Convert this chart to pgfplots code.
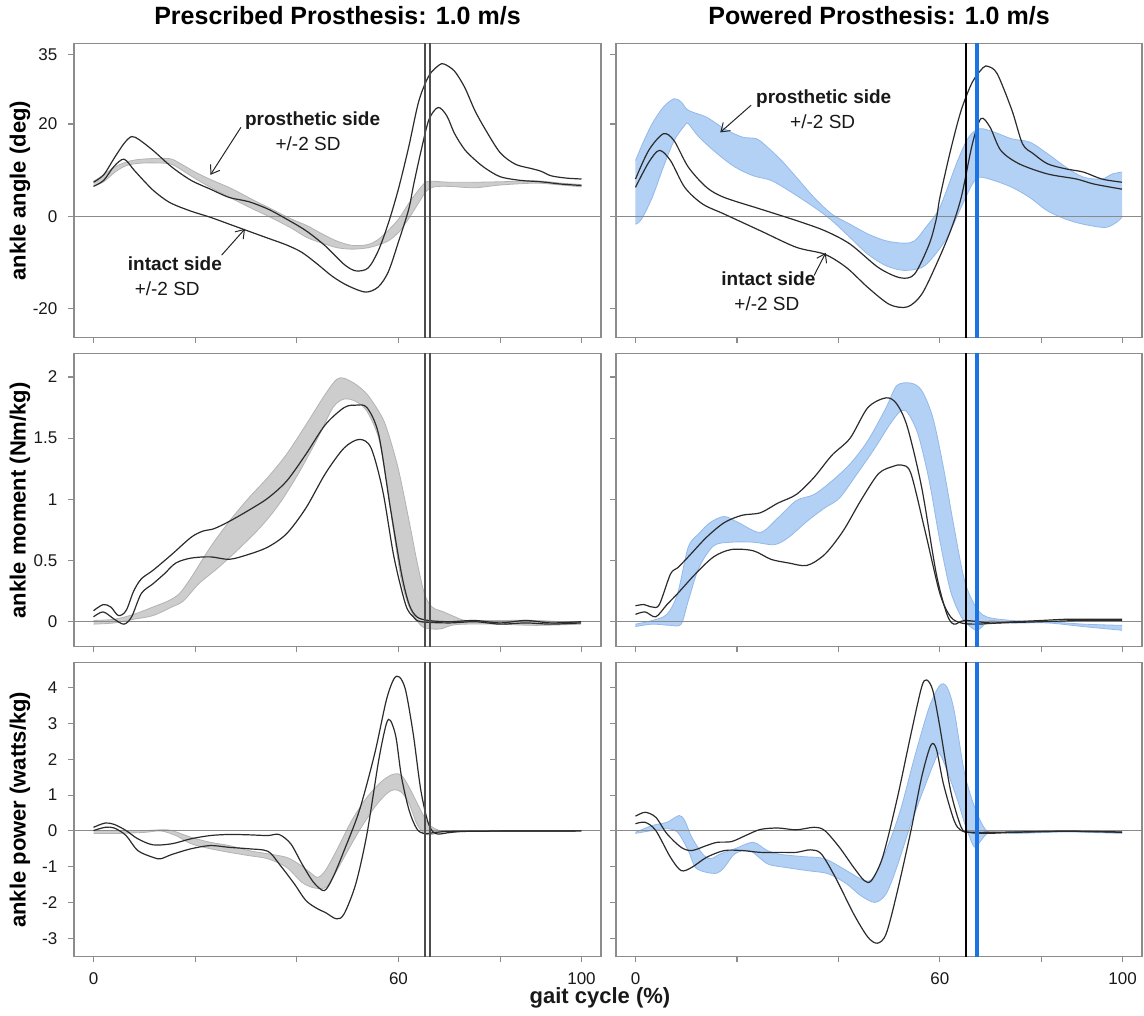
\documentclass[border=0pt]{standalone}
\usepackage{fontspec}
\setmainfont{Liberation Sans}
\usepackage{pgfplots}
\pgfplotsset{compat=1.18}
\usepgfplotslibrary{fillbetween}
\usetikzlibrary{arrows.meta}

\definecolor{boxgray}{HTML}{8C8C8C}
\definecolor{zerogray}{HTML}{8A8A8A}
\definecolor{curve}{HTML}{2B2B2B}
\definecolor{bandgray}{HTML}{CDCDCD}
\definecolor{bandgrayedge}{HTML}{B3B3B3}
\definecolor{bandblue}{HTML}{B3D0F5}
\definecolor{bandblueedge}{HTML}{93B9EA}
\definecolor{lineblue}{HTML}{1C74E4}
\definecolor{vgray}{HTML}{4D4D4D}

\tikzset{
  note/.style={font=\bfseries\fontsize{9.5}{11}\selectfont, text=black!90},
  sd/.style={font=\fontsize{9.5}{11}\selectfont, text=black!90},
  arr/.style={-{Straight Barb[length=4pt,width=5.5pt]}, line width=0.5pt, black!85},
}
\pgfplotsset{
  panel/.style={
    scale only axis, height=147pt,
    xmin=-3.84, xmax=99.84,
    axis line style={draw=boxgray, line width=0.6pt},
    tick style={draw=boxgray, line width=0.6pt},
    tick align=outside, major tick length=2.8pt, tick pos=left,
    xtick={0,20,40,60,80,96}, xticklabels={,,,,,},
    ticklabel style={font=\fontsize{8.5}{10}\selectfont, text=black!90},
    yticklabel style={xshift=-2pt},
    xticklabel style={yshift=-1.8pt},
    ylabel style={at={(axis description cs:-0.1025,0.5)}, anchor=center,
      font=\bfseries\fontsize{11}{13}\selectfont},
    title style={at={(axis description cs:0.5,1)}, anchor=base, yshift=3.5pt,
      font=\bfseries\fontsize{12.5}{14}\selectfont},
  },
  leftcol/.style={panel, width=263.5pt},
  rightcol/.style={panel, width=263pt},
  angle/.style={ymin=-26.3, ymax=37.4, ytick={-20,0,20,35}},
  moment/.style={ymin=-0.205, ymax=2.19, ytick={0,0.5,1,1.5,2}},
  power/.style={ymin=-3.52, ymax=4.70, ytick={-3,-2,-1,0,1,2,3,4}},
  kline/.style={smooth, color=curve, line width=0.6pt},
  gedge/.style={smooth, color=bandgrayedge, line width=0.4pt},
  bedge/.style={smooth, color=bandblueedge, line width=0.4pt},
  zline/.style={color=zerogray, line width=0.6pt},
}
\newcommand{\leftvlines}{%
  \addplot[vgray, line width=0.9pt] coordinates {(65.25,-100) (65.25,100)};
  \addplot[vgray, line width=0.9pt] coordinates {(66.15,-100) (66.15,100)};}
\newcommand{\rightvlines}{%
  \addplot[black, line width=1pt] coordinates {(65.1,-100) (65.1,100)};
  \addplot[lineblue, line width=1.7pt] coordinates {(67.3,-100) (67.3,100)};}
\newcommand{\zeroline}{\addplot[zline] coordinates {(-10,0) (110,0)};}

\begin{document}
\begin{tikzpicture}
\path (0,0) rectangle (572pt,-502.5pt);

% ---------- row 1: ankle angle ----------
\begin{axis}[leftcol, angle, at={(37pt,-16.5pt)}, anchor=north west,
  yticklabels={-20,0,20,35},
  title={Prescribed Prosthesis: 1.0 m/s}, ylabel={ankle angle (deg)}]
\addplot[gedge, name path=u] coordinates {(0,7.6)(2,9.0)(4,10.6)(6,11.6)(8,12.2)(11,12.5)(15,12.5)(17,11.5)(20,9.6)(23,8.0)(27,6.1)(31,3.8)(35,1.6)(39,-0.6)(42,-2.0)(45,-3.8)(48,-5.4)(51,-6.3)(54,-6.1)(56,-5.0)(58,-3.0)(60,-0.6)(62,2.8)(64,5.8)(65.5,7.5)(67,7.6)(70,7.4)(75,7.4)(80,7.5)(87,7.7)(92,7.2)(96,6.9)};
\addplot[gedge, name path=l] coordinates {(0,6.6)(2,7.5)(4,9.4)(6,10.8)(8,11.4)(11,11.6)(15,11.4)(17,10.3)(20,8.2)(23,6.3)(27,4.0)(31,1.8)(35,-0.3)(39,-2.6)(42,-4.6)(45,-5.8)(48,-6.8)(51,-7.1)(54,-6.8)(56,-6.2)(58,-5.3)(60,-3.5)(62,-0.5)(64,3.0)(65.5,5.5)(67,6.4)(70,6.5)(75,6.2)(80,6.8)(87,7.2)(92,6.8)(96,6.4)};
\addplot[bandgray, draw=none] fill between[of=u and l];
\zeroline
\addplot[kline] coordinates {(0,7.4)(2,9.0)(4,12.5)(6,15.8)(7.5,17.3)(9,16.6)(11.7,14.3)(15.4,10.7)(19.2,7.8)(23,5.9)(26.7,4.1)(30.5,3.2)(34.3,1.6)(38,-0.6)(41.8,-3.1)(45.6,-6.4)(49.3,-10.4)(51.6,-11.8)(54,-11.2)(56,-7.5)(58,-1.5)(60,6)(62,15)(64,25)(66,30.5)(68,32.8)(69,33)(71,31.5)(73,28)(75,23)(77,19)(80,13.8)(83,11.3)(86,10.4)(88,9.8)(90,8.8)(93,8.3)(96,8.1)};
\addplot[kline] coordinates {(0,6.5)(2,7.8)(4,10.8)(6,12.4)(8,10.0)(10,7.6)(12,5.4)(15,3.0)(19,1.2)(23,-0.2)(27,-1.8)(30,-3.0)(34,-4.6)(38,-6.2)(41,-7.8)(44,-10.3)(47,-13.0)(50,-15.0)(53.5,-16.4)(56,-15.3)(58,-12)(60,-5.5)(62,1.5)(63,7)(64.5,14.5)(66,21)(67.8,23.6)(69.5,21.8)(71,18)(73,14.5)(75,12.3)(77,10.5)(80,8.6)(84,7.8)(88,7.5)(92,7.0)(96,6.7)};
\leftvlines
\node[note] at (axis cs:43.1,20.8) {prosthetic side};
\node[sd] at (axis cs:42.2,15.8) {+/-2 SD};
\draw[arr] (axis cs:29.0,19.3) -- (axis cs:23.0,9.0);
\node[note] at (axis cs:16.0,-10.2) {intact side};
\node[sd] at (axis cs:14.5,-15.6) {+/-2 SD};
\draw[arr] (axis cs:25.2,-8.4) -- (axis cs:29.8,-2.7);
\end{axis}

\begin{axis}[rightcol, angle, at={(308pt,-16.5pt)}, anchor=north west,
  yticklabels={,,,}, title={Powered Prosthesis: 1.0 m/s}]
\addplot[bedge, name path=u] coordinates {(0,12.1)(1.5,16)(3.3,20.1)(5.5,23.7)(7.6,25.5)(9,24.8)(10.4,23.0)(14,21.5)(17.5,19.0)(21,17.2)(23.9,16.8)(26,15.0)(28.8,12.1)(31.7,8.5)(35.2,4.1)(38.7,0.5)(42.3,-1.7)(45.8,-3.8)(49.4,-5.3)(52.9,-5.8)(55,-5.3)(57.2,-2.4)(60,2.0)(63.5,12.1)(65.7,17.2)(67.8,19.0)(70.6,18.3)(74.2,16.8)(77.7,16.1)(81.2,13.6)(84.8,10.7)(88.3,8.5)(91.9,8.1)(94,9.2)(95.9,9.6)};
\addplot[bedge, name path=l] coordinates {(0,-1.7)(1.2,-0.6)(3.3,4.1)(5.5,10.7)(7.6,16.4)(9.7,19.7)(10.4,20.1)(12.5,17.2)(16.1,13.6)(19.6,10.7)(23.2,8.8)(26.7,7.8)(30.2,5.6)(35.2,2.0)(38.7,-0.9)(42.3,-4.6)(45.8,-8.2)(49.4,-10.7)(52.9,-11.7)(56.4,-11.1)(58.6,-8.9)(61.4,-4.6)(64.2,2.0)(66.4,7.0)(67.8,8.5)(70.6,7.8)(74.2,6.3)(77.7,4.1)(81.2,1.2)(84.8,-0.6)(88.3,-1.7)(92.6,-2.4)(94.8,-1.3)(95.9,-0.2)};
\addplot[bandblue, draw=none] fill between[of=u and l];
\zeroline
\addplot[kline] coordinates {(0,8.1)(2.6,14.3)(5.5,17.9)(7.6,16.4)(10.4,10.7)(14,6.3)(17.5,4.1)(24.6,1.6)(31.7,-0.9)(37.3,-3.1)(42.3,-6.0)(47.9,-11.1)(52.2,-13.3)(55,-12.5)(57.9,-6.0)(59.3,-0.5)(60,4.1)(62.1,14.3)(64.2,23.0)(66.4,29.1)(68.5,32.2)(69.5,32.5)(71.3,30.9)(74.2,23.0)(76.3,15.7)(78.4,13.6)(81.2,11.4)(84.8,10.3)(88.3,9.6)(91.9,8.1)(95.9,7.4)};
\addplot[kline] coordinates {(0,6.3)(2.6,11.7)(4.7,14.3)(6.9,12.1)(9.7,6.3)(13.2,2.7)(17.5,0.5)(24.6,-3.1)(31.7,-6.7)(37.3,-8.2)(41.6,-11.1)(45.8,-15.4)(50.1,-19.1)(53.6,-19.6)(56.4,-16.9)(59.3,-10.4)(62.1,-3.1)(64.2,4.1)(66.4,15.7)(68.1,21.2)(69.9,19.3)(72,14.3)(75.6,11.4)(81.2,9.2)(86.9,8.1)(90.4,7.0)(95.9,5.9)};
\rightvlines
\node[note] at (axis cs:37.1,25.6) {prosthetic side};
\node[sd] at (axis cs:36.9,20.5) {+/-2 SD};
\draw[arr] (axis cs:22.8,24.1) -- (axis cs:16.7,18.2);
\node[note] at (axis cs:26.2,-13.5) {intact side};
\node[sd] at (axis cs:25.9,-18.9) {+/-2 SD};
\draw[arr] (axis cs:35.2,-12.8) -- (axis cs:37.5,-7.9);
\end{axis}

% ---------- row 2: ankle moment ----------
\begin{axis}[leftcol, moment, at={(37pt,-171.5pt)}, anchor=north west, height=146.5pt,
  yticklabels={0,0.5,1,1.5,2}, ylabel={ankle moment (Nm/kg)}]
\addplot[gedge, name path=u] coordinates {(0,0.01)(4.1,0.02)(7.9,0.06)(11.7,0.12)(14.7,0.17)(16.9,0.23)(19.2,0.36)(23,0.61)(26.7,0.82)(30.5,1.01)(34.3,1.18)(38,1.37)(41.8,1.61)(45.6,1.86)(47.8,1.98)(49.3,1.99)(51.6,1.94)(53.8,1.86)(56.1,1.72)(57.6,1.59)(59.9,1.26)(62.1,0.82)(63.6,0.50)(65.1,0.23)(66.6,0.12)(68.9,0.08)(71.1,0.04)(73.3,0.01)(79.4,0.01)(87,0.01)(95.9,-0.01)};
\addplot[gedge, name path=l] coordinates {(0,-0.02)(4.1,-0.01)(7.9,0.02)(11.7,0.05)(15.4,0.12)(17.7,0.17)(20.7,0.31)(24.5,0.44)(28.2,0.58)(32.8,0.77)(36.5,0.96)(40.3,1.21)(44.1,1.50)(47.1,1.75)(49.3,1.82)(51.6,1.80)(53.8,1.72)(56.1,1.50)(57.6,1.15)(59.1,0.72)(60.6,0.33)(62.1,0.12)(63.6,0.01)(65.1,-0.05)(68.1,-0.06)(70.4,-0.03)(73,-0.02)(79.4,-0.02)(87,-0.03)(95.9,-0.02)};
\addplot[bandgray, draw=none] fill between[of=u and l];
\zeroline
\addplot[kline] coordinates {(0,0.09)(1.9,0.14)(3.4,0.12)(4.9,0.05)(6.4,0.09)(7.9,0.25)(9.4,0.35)(11.7,0.42)(15.4,0.55)(19.2,0.69)(21.5,0.74)(23.7,0.76)(26.7,0.82)(30.5,0.91)(34.3,1.01)(38,1.15)(41.8,1.37)(45.6,1.61)(49.3,1.75)(51.6,1.77)(53.8,1.75)(56.1,1.53)(58.4,0.93)(60.6,0.39)(62.1,0.14)(63.6,0.04)(65.9,0.01)(70,0.0)(75,0.01)(80,-0.01)(85,0.01)(90,-0.01)(95.9,0.0)};
\addplot[kline] coordinates {(0,0.04)(1.9,0.08)(4.1,0.02)(6,-0.02)(7.5,0.04)(9.4,0.23)(11.7,0.31)(13.9,0.39)(16.2,0.48)(19.2,0.52)(23,0.53)(26.7,0.51)(30.5,0.55)(34.3,0.61)(38,0.72)(41.8,0.93)(45.6,1.21)(49.3,1.42)(52.3,1.49)(54.6,1.42)(56.9,1.07)(59.1,0.53)(61.4,0.14)(62.9,0.04)(64.4,0.0)(70,-0.01)(75,0.0)(80,-0.02)(85,-0.01)(90,-0.02)(95.9,-0.01)};
\leftvlines
\end{axis}

\begin{axis}[rightcol, moment, at={(308pt,-171.5pt)}, anchor=north west, height=146.5pt,
  yticklabels={,,,,}]
\addplot[bedge, name path=u] coordinates {(0,-0.02)(3.3,0.01)(6.2,0.06)(8.3,0.23)(10.4,0.61)(12.5,0.72)(14.7,0.81)(17.5,0.86)(20.3,0.81)(24.6,0.73)(28.1,0.85)(31.7,0.99)(35.2,1.04)(38.7,1.15)(42.3,1.29)(45.8,1.48)(49.4,1.75)(51.5,1.93)(54.3,1.95)(56.4,1.89)(58.6,1.67)(60.7,1.26)(62.8,0.77)(64.9,0.33)(67.1,0.12)(69.2,0.04)(74.2,0.01)(81.2,0.0)(88.3,-0.02)(95.9,-0.03)};
\addplot[bedge, name path=l] coordinates {(0,-0.04)(3.3,-0.02)(6.9,-0.03)(9,-0.02)(10.4,0.17)(12.5,0.44)(15.4,0.62)(18.9,0.65)(23.2,0.65)(27.4,0.63)(30.2,0.69)(33.8,0.82)(37.3,0.93)(40.2,1.01)(43.7,1.21)(47.2,1.42)(50.1,1.61)(52.2,1.72)(53.6,1.71)(55.7,1.53)(57.9,1.15)(60,0.66)(62.1,0.25)(64.2,0.04)(65.7,-0.03)(67.1,-0.07)(68.1,-0.05)(69.9,0.01)(74.2,-0.01)(81.2,-0.01)(88.3,-0.04)(95.9,-0.07)};
\addplot[bandblue, draw=none] fill between[of=u and l];
\zeroline
\addplot[kline] coordinates {(0,0.13)(1.6,0.14)(3.3,0.12)(4.7,0.14)(6.9,0.39)(8.3,0.44)(10.4,0.53)(14,0.69)(17.5,0.81)(21,0.87)(24.6,0.89)(28.1,0.97)(31.7,1.04)(35.2,1.18)(38.7,1.36)(42.3,1.50)(45.8,1.75)(49.4,1.83)(51.5,1.78)(53.6,1.59)(56.4,1.10)(59.3,0.39)(61.4,0.06)(62.8,-0.02)(64.9,0.01)(70,-0.01)(75,0.0)(80,0.01)(85,0.02)(90,0.02)(95.9,0.02)};
\addplot[kline] coordinates {(0,0.06)(1.9,0.08)(4,0.04)(6.2,0.14)(8.3,0.23)(11.8,0.39)(15.4,0.53)(18.9,0.59)(23.2,0.58)(26.7,0.51)(30.2,0.48)(33.8,0.46)(37.3,0.55)(40.9,0.74)(44.4,0.99)(47.9,1.21)(50.8,1.27)(52.5,1.28)(54.3,1.21)(57.2,0.72)(60,0.23)(62.1,0.04)(64.2,-0.01)(67.1,-0.02)(72,-0.01)(80,0.0)(88,0.01)(95.9,0.01)};
\rightvlines
\end{axis}

% ---------- row 3: ankle power ----------
\begin{axis}[leftcol, power, at={(37pt,-326pt)}, anchor=north west,
  yticklabels={-3,-2,-1,0,1,2,3,4}, xticklabels={0,,,60,,100},
  ylabel={ankle power (watts/kg)}]
\addplot[gedge, name path=u] coordinates {(0,0.01)(5,0.01)(10.2,0.01)(13.2,0.03)(15.4,0.01)(19.2,-0.18)(23,-0.32)(26.7,-0.41)(30.5,-0.55)(34.3,-0.64)(38,-0.74)(40.3,-0.92)(42.6,-1.16)(44.1,-1.30)(45.6,-1.11)(47.8,-0.55)(50.8,0.29)(53.8,0.94)(56.9,1.41)(59.1,1.59)(60.6,1.55)(62.1,1.22)(64.4,0.57)(65.9,0.20)(68.1,0.01)(72,0.0)(96,0.0)};
\addplot[gedge, name path=l] coordinates {(0,-0.07)(5,-0.07)(10.2,-0.04)(13.2,0.0)(16.2,-0.13)(19.2,-0.36)(23,-0.50)(26.7,-0.60)(30.5,-0.69)(34.3,-0.78)(38,-1.02)(41,-1.44)(43.3,-1.59)(45.6,-1.59)(47.1,-1.30)(49.3,-0.74)(52.3,0.01)(55.3,0.66)(57.6,1.03)(59.1,1.15)(60.6,1.08)(62.1,0.76)(63.6,0.20)(65.1,-0.08)(66.6,-0.10)(68.1,-0.04)(72,-0.01)(96,0.0)};
\addplot[bandgray, draw=none] fill between[of=u and l];
\zeroline
\addplot[kline] coordinates {(0,0.10)(2.3,0.22)(4.1,0.18)(6.4,0.01)(8.7,-0.22)(11.7,-0.39)(15.4,-0.36)(19.2,-0.22)(23,-0.13)(26.7,-0.10)(30.5,-0.11)(34.3,-0.13)(36.5,-0.10)(38.8,-0.36)(41,-0.92)(43.3,-1.44)(45.4,-1.67)(47.1,-1.30)(49.3,-0.55)(52.3,0.57)(55.3,2.15)(57.6,3.65)(59.1,4.25)(60.2,4.30)(61.4,3.93)(62.9,2.71)(64.4,1.13)(65.9,0.20)(67.4,-0.08)(70.4,-0.04)(75,-0.01)(96,0.0)};
\addplot[kline] coordinates {(0,0.01)(2.3,0.10)(4.1,0.08)(6.4,-0.13)(8.7,-0.55)(11.7,-0.74)(13.2,-0.78)(15.4,-0.66)(19.2,-0.50)(23,-0.41)(26.7,-0.46)(30.5,-0.50)(34.3,-0.57)(36.5,-0.92)(39.5,-1.48)(41.8,-1.95)(44.1,-2.18)(45.6,-2.28)(47.8,-2.46)(49.3,-2.32)(51.6,-1.48)(53.8,-0.08)(56.1,1.97)(57.6,2.99)(58.4,3.09)(59.5,2.62)(60.6,1.50)(62.1,0.57)(63.6,0.06)(65.1,-0.08)(67.4,-0.04)(72,-0.01)(96,0.0)};
\leftvlines
\end{axis}

\begin{axis}[rightcol, power, at={(308pt,-326pt)}, anchor=north west,
  yticklabels={,,,,,,,}, xticklabels={0,,,60,,100}]
\addplot[bedge, name path=u] coordinates {(0,-0.04)(3.3,0.15)(6.2,0.24)(8.6,0.43)(9.7,0.29)(11.1,-0.18)(13.2,-0.64)(14.7,-0.78)(16.8,-0.64)(19.6,-0.50)(23.2,-0.32)(26,-0.55)(28.8,-0.66)(33.1,-0.72)(37.3,-0.78)(41.6,-1.11)(45.1,-1.39)(46.9,-1.30)(49.4,-0.55)(52.2,0.57)(55,2.06)(57.9,3.46)(60,4.07)(61.4,4.02)(62.8,3.37)(64.9,1.59)(67.1,0.57)(69.2,0.01)(72,-0.04)(81,0.0)(95.9,-0.04)};
\addplot[bedge, name path=l] coordinates {(0,-0.07)(3.3,0.01)(6.2,0.06)(8.3,-0.04)(10.4,-0.55)(11.8,-1.02)(14,-1.16)(16.1,-1.18)(17.5,-1.02)(19.6,-0.64)(22.5,-0.55)(26,-0.92)(29.5,-1.02)(33.8,-1.11)(38,-1.20)(41.6,-1.48)(44.4,-1.81)(47.2,-2.00)(49.4,-1.76)(51.5,-1.02)(54.3,0.20)(57.2,1.31)(59.3,2.06)(60,2.15)(61.4,1.69)(63.5,0.85)(64.9,0.20)(66.4,-0.36)(67.1,-0.46)(68.1,-0.27)(69.9,-0.04)(75,-0.07)(85,-0.03)(95.9,-0.07)};
\addplot[bandblue, draw=none] fill between[of=u and l];
\zeroline
\addplot[kline] coordinates {(0,0.41)(1.9,0.52)(4,0.38)(6.2,-0.08)(9,-0.46)(11.1,-0.55)(14,-0.41)(16.1,-0.32)(18.9,-0.30)(21.7,-0.13)(24.6,0.04)(28.1,0.08)(31.7,0.03)(35.2,0.10)(37.3,0.01)(40.2,-0.46)(43,-1.02)(45.1,-1.39)(46.5,-1.39)(48.7,-0.74)(51.5,0.85)(54.3,2.71)(56.4,4.02)(57.4,4.22)(58.6,3.93)(60,2.90)(62.1,1.13)(64.2,0.10)(65.7,-0.04)(69.2,-0.07)(75,-0.04)(85,-0.01)(95.9,-0.04)};
\addplot[kline] coordinates {(0,0.20)(1.9,0.24)(4,0.01)(6.9,-0.74)(9,-1.11)(11.1,-1.02)(14,-0.74)(17.5,-0.55)(21,-0.55)(24.6,-0.60)(28.8,-0.60)(31.7,-0.60)(34.5,-0.53)(36.6,-0.64)(39.4,-1.30)(43,-2.32)(45.8,-2.97)(47.7,-3.14)(49.4,-2.88)(51.5,-1.76)(54.3,0.01)(56.4,1.50)(58.2,2.39)(59.3,2.29)(60.7,1.31)(62.8,0.29)(64.2,0.01)(66.4,-0.04)(75,-0.03)(85,-0.01)(95.9,-0.03)};
\rightvlines
\end{axis}

\node[anchor=base, font=\bfseries\fontsize{11}{13}\selectfont, text=black!90] at (300pt,-496.5pt) {gait cycle (\%)};
\end{tikzpicture}
\end{document}
